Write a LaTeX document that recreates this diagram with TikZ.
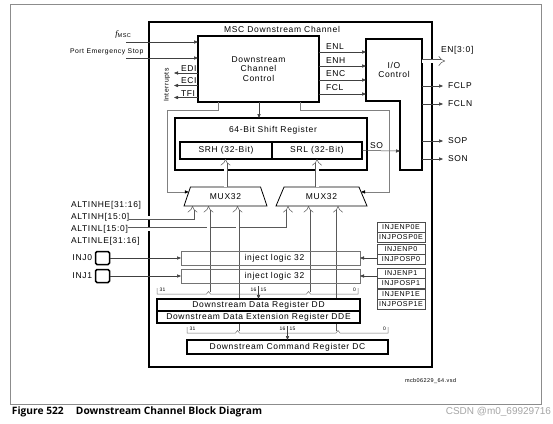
\documentclass[tikz,border=0pt]{standalone}
\usepackage{fontspec}
\setmainfont{Liberation Sans}[LetterSpace=8]
\newfontfamily\capfont{Open Sans}
\newfontfamily\wmfont{Liberation Sans}
\newfontfamily\fserif{Liberation Serif}
\usetikzlibrary{arrows.meta,shapes.geometric,calc}
\begin{document}
\begin{tikzpicture}[x=1pt,y=-1pt,
  font=\fontsize{8.5}{9.6}\selectfont,
  every node/.style={inner sep=0pt, outer sep=0pt},
  sml/.style={font=\fontsize{6.8}{7}\selectfont},
  cellf/.style={font=\fontsize{7.1}{7.5}\selectfont},
  tiny/.style={font=\fontsize{5}{5}\selectfont},
  blk/.style={draw=black, line width=1.6pt, anchor=north west},
  cbox/.style={draw=black, line width=1.2pt, anchor=north west},
  cell/.style={draw=black!70, line width=0.5pt, anchor=north west, minimum width=48, minimum height=10, cellf},
  ibox/.style={draw=black!55, line width=0.6pt, anchor=north west, minimum width=179, minimum height=14},
  pad/.style={draw=black, line width=1.5pt, rounded corners=1.5pt, anchor=north west, minimum width=14, minimum height=13},
  mux/.style={draw=black, line width=0.8pt, trapezium, trapezium stretches=true, minimum height=19},
  arr/.style={draw=black!75, line width=0.5pt, -{Triangle[length=4pt,width=3.2pt]}},
  garr/.style={draw=black!50, line width=0.6pt, -{Triangle[length=4pt,width=3.2pt,color=black]}},
  brk/.style={draw=black!55, line width=0.5pt},
  dbl/.style={draw=black!65, line width=0.5pt, double=white, double distance=3pt, -{Implies}},
]
\useasboundingbox (0,0) rectangle (553,423);
\fill[white] (0,0) rectangle (553,423);

% outer frame
\draw[black!45, line width=0.7pt] (10.5,4) rectangle (541.5,404);

% main channel box
\node[blk, minimum width=283, minimum height=345] (main) at (149,22) {};
\node (title) at (282,29.5) {MSC Downstream Channel};

% downstream channel control
\node[cbox, minimum width=121, minimum height=66, align=center] (ctrl) at (198,36) {Downstream\\Channel\\Control};

% I/O control (L-shaped)
\draw[black, line width=1.2pt] (366,39) -- (422,39) -- (422,170) -- (400,170) -- (400,101) -- (366,101) -- cycle;
\node[minimum width=56, minimum height=62, anchor=north west, align=center] (io) at (366,39) {I/O\\Control};
\coordinate (soin) at (400,151);

% inputs to control
\node[anchor=east] (fmsc) at (131,34) {{\fserif\itshape f}\raisebox{-1.3pt}{\fontsize{5.6}{6}\selectfont MSC}};
\coordinate (fin) at (126,42);
\draw[arr] (fin) -- (ctrl.west |- fin);
\node[sml, anchor=west] (pes) at (70,52) {Port Emergency Stop};
\coordinate (pin) at (126,58);
\draw[arr] (pin) -- (ctrl.west |- pin);

% interrupts
\foreach \y/\t in {73/EDI,85.5/ECI,97.5/TFI} {
  \coordinate (i\t) at (174,\y);
  \draw[arr] (ctrl.west |- i\t) -- (i\t);
  \node[anchor=south west] at (181,\y-1.5) {\t};
}
\node[sml, rotate=90] (intr) at (167,85) {Interrupts};

% control -> I/O
\foreach \y/\t in {52/ENL,66/ENH,80/ENC,94/FCL} {
  \coordinate (e\t) at (366,\y);
  \draw[arr] (ctrl.east |- e\t) -- (io.west |- e\t);
  \node[anchor=south west] at (326,\y-3) {\t};
}

% I/O outputs
\coordinate (en) at (445,61);
\draw[dbl] (io.east |- en) -- (en);
\node[anchor=west] (enl) at (441,50.5) {EN[3:0]};
\foreach \y/\t in {86/FCLP,104/FCLN,141/SOP,159/SON} {
  \coordinate (o\t) at (443,\y);
  \draw[arr] (io.east |- o\t) -- (o\t);
  \node[anchor=west] at (448,\y) {\t};
}

% shift register
\node[blk, minimum width=192, minimum height=52] (sr) at (175,118) {};
\node (srt) at (273,130) {64-Bit Shift Register};
\node[blk, minimum width=92, minimum height=17] (srh) at (180,142) {SRH (32-Bit)};
\node[blk, minimum width=90, minimum height=17] (srl) at (272,142) {SRL (32-Bit)};
\draw[arr] (ctrl.south -| 259,0) -- (sr.north -| 259,0);
\draw[arr] (srl.east) -- (soin);
\node[anchor=south west] at (370,149) {SO};

% multiplexers
\node[mux, trapezium angle=64.7, minimum width=83] (muxL) at (225.5,196.5) {MUX32};
\node[mux, trapezium angle=61, minimum width=91] (muxR) at (321.5,196.5) {MUX32};

% control -> mux select lines
\draw[garr] (ctrl.south -| 218,0) |- (167,110) |- ($(muxL.bottom left corner)!0.74!(muxL.top left corner)$);
\draw[garr] (ctrl.south -| 300,0) |- (389,110) |- ($(muxR.bottom right corner)!0.74!(muxR.top right corner)$);

% mux outputs
\draw[dbl] (muxL.north) -- (srh.south -| muxL.north);
\draw[dbl] (muxR.north -| 317,0) -- (srl.south -| 317,0);

% alternative inputs
\node[anchor=west] (altHE) at (71,205) {ALTINHE[31:16]};
\node[anchor=west] (altH) at (71,217.5) {ALTINH[15:0]};
\node[anchor=west] (altL) at (71,229) {ALTINL[15:0]};
\node[anchor=west] (altLE) at (71,241) {ALTINLE[31:16]};
\draw[dbl] (altH.east) -| (muxL.south -| 192.5,0);
\draw[dbl] (altL.east) -| (muxR.south -| 288,0);

% bracket peaks (register bit fields)
\coordinate (ddH) at (208.5,291.5);
\coordinate (ddL) at (308.5,291.5);
\coordinate (dcH) at (237.5,330.5);
\coordinate (dcL) at (338,330.5);
\draw[dbl] (ddH) -- (muxL.south -| ddH);
\draw[dbl] (dcH) -- (muxL.south -| dcH);
\draw[dbl] (ddL) -- (muxR.south -| ddL);
\draw[dbl] (dcL) -- (muxR.south -| dcL);

% inject logic
\node[ibox] (ij0) at (181,251) {};
\node at (274.5,258) {inject logic 32};
\node[ibox] (ij1) at (181,269) {};
\node at (274.5,276) {inject logic 32};

\node[pad] (pad0) at (95.5,251.5) {};
\node[pad] (pad1) at (95.5,269.5) {};
\node[anchor=east] at (92,257.5) {INJ0};
\node[anchor=east] at (92,275.5) {INJ1};
\draw[arr] (pad0.east) -- (ij0.west |- pad0.east);
\draw[arr] (pad1.east) -- (ij1.west |- pad1.east);

% injection enable / position registers
\node[cell] (p0ea) at (377,222) {INJENP0E};
\node[cell] (p0eb) at (377,232) {INJPOSP0E};
\node[cell] (p0a) at (377,244) {INJENP0};
\node[cell] (p0b) at (377,254) {INJPOSP0};
\node[cell] (p1a) at (377,268) {INJENP1};
\node[cell] (p1b) at (377,278) {INJPOSP1};
\node[cell] (p1ea) at (377,289.5) {INJENP1E};
\node[cell] (p1eb) at (377,299.5) {INJPOSP1E};
\draw[arr] (p0b.west |- ij0.east) -- (ij0.east);
\draw[arr] (p1a.west |- ij1.east) -- (ij1.east);

% data registers
\node[blk, fill=white, minimum width=203, minimum height=12] (dd) at (157,299) {Downstream Data Register DD};
\node[blk, fill=white, minimum width=203, minimum height=12] (dde) at (157,311) {Downstream Data Extension Register DDE};
\draw[brk] (157,288) -- (157,294) -- (206.5,294) -- (ddH) -- (210.5,294) -- (306.5,294) -- (ddL) -- (310.5,294) -- (358,294) -- (358,288);
\draw[arr] (258.5,286) -- (dd.north);
\node[tiny, anchor=west] at (159.5,289.5) {31};
\node[tiny, anchor=east] at (256.5,289.5) {16};
\node[tiny, anchor=west] at (260.5,289.5) {15};
\node[tiny, anchor=east] at (356,289.5) {0};

% command register
\node[blk, fill=white, minimum width=201, minimum height=14] (dc) at (187,340) {Downstream Command Register DC};
\draw[brk] (187,327) -- (187,333) -- (235.5,333) -- (dcH) -- (239.5,333) -- (336,333) -- (dcL) -- (340,333) -- (388,333) -- (388,327);
\draw[arr] (287.5,326) -- (dc.north);
\node[tiny, anchor=west] at (189.5,328.5) {31};
\node[tiny, anchor=east] at (285.5,328.5) {16};
\node[tiny, anchor=west] at (289.5,328.5) {15};
\node[tiny, anchor=east] at (386,328.5) {0};

% file name, caption, watermark
\node[font=\fontsize{5.5}{6}\selectfont, anchor=west] (vsd) at (405,381) {mcb06229\_64.vsd};
\node[font=\capfont\bfseries\fontsize{10.2}{11}\selectfont, anchor=west] (cap) at (12,411.5) {Figure 522\hspace{1.2em}Downstream Channel Block Diagram};
\node[font=\wmfont\fontsize{10}{11}\selectfont, text=black!35, anchor=east] (wm) at (551,411.5) {CSDN @m0\_69929716};
\end{tikzpicture}
\end{document}
